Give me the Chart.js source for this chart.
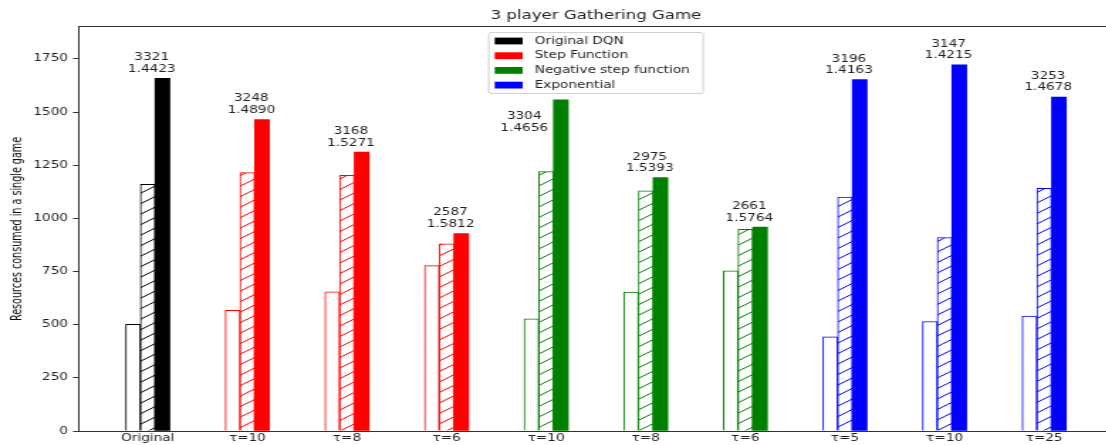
<!DOCTYPE html>
<html>
<head>
<meta charset="utf-8">
<title>3 player Gathering Game</title>
<script src="https://cdn.jsdelivr.net/npm/chart.js@4.4.0/dist/chart.umd.min.js"></script>
<style>
  html, body { margin: 0; padding: 0; background: #fff; overflow: hidden; }
  #gathering { display: block; }
</style>
</head>
<body>
<!-- drawn narrow, shown wide -->
<canvas id="gathering" width="790" height="445" style="width:1122px;height:445px"></canvas>
<script>
// resources consumed per player, one group per reward shaping setting
const categories = ['Original', 'τ=10', 'τ=8', 'τ=6', 'τ=10', 'τ=8', 'τ=6', 'τ=5', 'τ=10', 'τ=25'];
const playerLow  = [502, 568, 654, 778, 527, 653, 753, 443, 515, 541];
const playerMid  = [1160, 1215, 1202, 880, 1220, 1130, 949, 1100, 910, 1141];
const playerHigh = [1659, 1465, 1312, 929, 1557, 1192, 959, 1653, 1722, 1571];
const totals = [3321, 3248, 3168, 2587, 3304, 2975, 2661, 3196, 3147, 3253];
const ratios = ['1.4423', '1.4890', '1.5271', '1.5812', '1.4656', '1.5393', '1.5764', '1.4163', '1.4215', '1.4678'];
const methods = ['Original DQN', 'Step Function', 'Negative step function', 'Exponential'];
const methodOfGroup = [0, 1, 1, 1, 2, 2, 2, 3, 3, 3];
const yMax = 1900;
const yStep = 250;

const methodColors = ['#000000', '#ff0000', '#008000', '#0000ff'];
const FONT = 'DejaVu Sans';

// the label of the 4th group is moved aside so it clears the legend
const labelAnchor = { 4: { x: 3.78, y: 1382 } };

function hatch(color) {
  const tile = document.createElement('canvas');
  tile.width = 30;
  tile.height = 21;
  const c = tile.getContext('2d');
  c.fillStyle = '#fff';
  c.fillRect(0, 0, 30, 21);
  c.strokeStyle = color;
  c.lineWidth = 1;
  c.beginPath();
  for (let k = -2; k <= 2; k++) {
    const off = k * 10.5;
    c.moveTo(-2, 21 + off + 1.4);
    c.lineTo(32, off - 1.4);
  }
  c.stroke();
  return c.createPattern(tile, 'repeat');
}

const barColors = methodOfGroup.map(m => methodColors[m]);
const hatches = methodColors.map(hatch);
const barHatches = methodOfGroup.map(m => hatches[m]);
const toPoints = vals => vals.map((v, i) => ({ x: i, y: v }));

const decorations = {
  id: 'decorations',
  afterDatasetsDraw(chart) {
    const { ctx, scales: { x, y } } = chart;
    ctx.save();
    ctx.fillStyle = '#222';
    ctx.font = '9.6px "' + FONT + '"';
    ctx.textAlign = 'center';
    ctx.textBaseline = 'middle';
    categories.forEach((_, i) => {
      const a = labelAnchor[i] || { x: i + 0.04, y: playerHigh[i] };
      const px = x.getPixelForValue(a.x);
      const py = y.getPixelForValue(a.y);
      ctx.fillText(String(totals[i]), px, py - 20.5);
      ctx.fillText(ratios[i], px, py - 9);
    });
    ctx.restore();
  },
  afterDraw(chart) {
    const { ctx, chartArea: area } = chart;
    ctx.save();
    // axes frame
    ctx.strokeStyle = '#333';
    ctx.lineWidth = 1;
    const l = Math.round(area.left) + 0.5, t = Math.round(area.top) - 0.5;
    const r = Math.round(area.right) + 0.5, b = Math.round(area.bottom) + 0.5;
    ctx.strokeRect(l, t, r - l, b - t);

    // legend box, top centre of the plot
    const w = 151, h = 61;
    const left = (area.left + area.right) / 2 - w / 2;
    const top = area.top + 5.5;
    ctx.fillStyle = 'rgba(255,255,255,0.85)';
    ctx.strokeStyle = '#d0d0d0';
    ctx.beginPath();
    ctx.roundRect(left, top, w, h, 2);
    ctx.fill();
    ctx.stroke();
    ctx.font = '9.6px "' + FONT + '"';
    ctx.textAlign = 'left';
    ctx.textBaseline = 'middle';
    methods.forEach((name, k) => {
      const cy = top + 8.5 + k * 14.7;
      ctx.fillStyle = methodColors[k];
      ctx.fillRect(left + 4.2, cy - 3.4, 19.7, 6.8);
      ctx.fillStyle = '#222';
      ctx.fillText(name, left + 32.4, cy);
    });
    ctx.restore();
  }
};

new Chart(document.getElementById('gathering'), {
  type: 'bar',
  data: {
    datasets: [
      { label: 'low', data: toPoints(playerLow), backgroundColor: '#fff', borderColor: barColors, borderWidth: 1 },
      { label: 'mid', data: toPoints(playerMid), backgroundColor: barHatches, borderColor: barColors, borderWidth: 1 },
      { label: 'high', data: toPoints(playerHigh), backgroundColor: barColors, borderWidth: 0 }
    ]
  },
  options: {
    responsive: false,
    animation: false,
    devicePixelRatio: 1,
    datasets: { bar: { barThickness: 10.35 } },
    layout: { padding: { top: 0, left: 0, right: 5.7, bottom: 0 } },
    plugins: {
      legend: { display: false },
      tooltip: { enabled: false },
      title: {
        display: true,
        text: '3 player Gathering Game',
        fullSize: false,
        color: '#222',
        font: { family: FONT, size: 11.7, weight: 'normal' },
        padding: { top: 9, bottom: 3.96 }
      }
    },
    scales: {
      x: {
        type: 'linear',
        min: -0.7,
        max: 9.7,
        offset: false,
        grid: { display: false, drawTicks: false },
        border: { display: false },
        ticks: {
          stepSize: 1,
          includeBounds: false,
          autoSkip: false,
          maxRotation: 0,
          padding: 2,
          color: '#222',
          font: { family: FONT, size: 9.6 },
          callback: v => categories[v]
        },
        afterFit: s => { s.height = 14; }
      },
      y: {
        min: 0,
        max: yMax,
        grid: { drawOnChartArea: false, tickLength: 3.5, color: '#333' },
        border: { display: false },
        ticks: {
          stepSize: yStep,
          includeBounds: false,
          padding: 3.5,
          color: '#222',
          font: { family: FONT, size: 9.6 },
          callback: v => String(v)
        },
        title: {
          display: true,
          text: 'Resources consumed in a single game',
          color: '#111',
          font: { family: FONT, size: 9.6 },
          padding: { top: 7.1, bottom: 0 }
        },
        afterFit: s => { s.width = 54.92; }
      }
    }
  },
  plugins: [decorations]
});
</script>
</body>
</html>
